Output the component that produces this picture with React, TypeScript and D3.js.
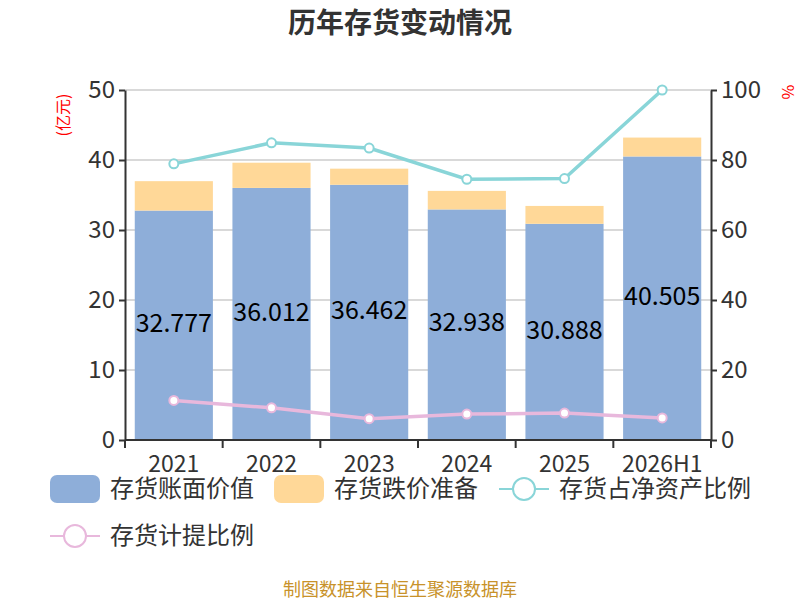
import { useRef, useEffect } from 'react';
import * as d3 from 'd3';

const FONT = '"Noto Sans CJK SC", "Noto Sans", sans-serif';

const YEARS = ['2021', '2022', '2023', '2024', '2025', '2026H1'];
const BOOK_VALUE = [32.777, 36.012, 36.462, 32.938, 30.888, 40.505];
const IMPAIRMENT = [4.2, 3.6, 2.3, 2.65, 2.55, 2.7];
const NET_ASSET_RATIO = [78.9, 84.9, 83.4, 74.5, 74.7, 100];
const PROVISION_RATIO = [11.3, 9.2, 6.1, 7.4, 7.7, 6.3];
const LEFT_TICKS = [0, 10, 20, 30, 40, 50];
const RIGHT_TICKS = [0, 20, 40, 60, 80, 100];

const BLUE = '#8eaed9';
const ORANGE = '#ffd898';
const CYAN = '#89d5d8';
const PINK = '#e8b8dc';
const AXIS = '#333';

export default function App() {
  const svgRef = useRef<SVGSVGElement>(null);

  useEffect(() => {
    document.body.style.margin = '0';
    const svg = d3.select(svgRef.current);
    svg.selectAll('*').remove();

    const left = 125, right = 711, top = 90, bottom = 440;

    const x = d3.scaleBand().domain(YEARS).range([left, right]).paddingInner(0.2).paddingOuter(0.1);
    const yL = d3.scaleLinear().domain([0, 50]).range([bottom, top]);
    const yR = d3.scaleLinear().domain([0, 100]).range([bottom, top]);

    // title
    svg.append('text')
      .attr('x', 400).attr('y', 33)
      .attr('text-anchor', 'middle')
      .attr('font-family', FONT).attr('font-size', 28).attr('font-weight', 700)
      .attr('fill', '#333')
      .text('历年存货变动情况');

    // grid lines
    svg.append('g')
      .selectAll('line')
      .data(LEFT_TICKS.slice(1))
      .join('line')
      .attr('x1', left).attr('x2', right)
      .attr('y1', d => yL(d)).attr('y2', d => yL(d))
      .attr('stroke', '#ccc').attr('stroke-width', 1.5);

    // bars
    const bars = svg.append('g');
    YEARS.forEach((yr, i) => {
      const bx = x(yr)!;
      bars.append('rect')
        .attr('x', bx).attr('width', x.bandwidth())
        .attr('y', yL(BOOK_VALUE[i])).attr('height', bottom - yL(BOOK_VALUE[i]))
        .attr('fill', BLUE);
      const tot = BOOK_VALUE[i] + IMPAIRMENT[i];
      bars.append('rect')
        .attr('x', bx).attr('width', x.bandwidth())
        .attr('y', yL(tot)).attr('height', yL(BOOK_VALUE[i]) - yL(tot))
        .attr('fill', ORANGE);
      bars.append('text')
        .attr('x', bx + x.bandwidth() / 2)
        .attr('y', (yL(BOOK_VALUE[i]) + bottom) / 2 - 2)
        .attr('dy', '0.35em')
        .attr('text-anchor', 'middle')
        .attr('font-family', FONT).attr('font-size', 25)
        .attr('fill', '#000')
        .text(BOOK_VALUE[i].toFixed(3));
    });

    // lines
    const cx = (d: string) => x(d)! + x.bandwidth() / 2;
    const drawLine = (vals: number[], color: string) => {
      const line = d3.line<number>().x((_, i) => cx(YEARS[i])).y(v => yR(v));
      svg.append('path')
        .attr('d', line(vals)!)
        .attr('fill', 'none')
        .attr('stroke', color).attr('stroke-width', 3.5);
      svg.append('g')
        .selectAll('circle')
        .data(vals)
        .join('circle')
        .attr('cx', (_, i) => cx(YEARS[i]))
        .attr('cy', v => yR(v))
        .attr('r', 4.5)
        .attr('fill', '#fff')
        .attr('stroke', color).attr('stroke-width', 2);
    };
    drawLine(NET_ASSET_RATIO, CYAN);
    drawLine(PROVISION_RATIO, PINK);

    const styleAxis = (sel: d3.Selection<SVGGElement, unknown, null, undefined>) => {
      sel.select('.domain').attr('stroke', AXIS).attr('stroke-width', 2);
      sel.selectAll('line').attr('stroke', AXIS).attr('stroke-width', 2);
      sel.selectAll('text')
        .attr('fill', AXIS)
        .attr('font-family', FONT)
        .attr('font-size', 24);
    };

    // left axis
    svg.append('g')
      .attr('transform', `translate(${left},0)`)
      .call(d3.axisLeft(yL).tickValues(LEFT_TICKS).tickSize(6).tickSizeOuter(0).tickPadding(4))
      .call(styleAxis);

    // right axis
    svg.append('g')
      .attr('transform', `translate(${right},0)`)
      .call(d3.axisRight(yR).tickValues(RIGHT_TICKS).tickSize(6).tickSizeOuter(0).tickPadding(4))
      .call(styleAxis);

    // x axis
    const xg = svg.append('g').attr('transform', `translate(0,${bottom})`);
    xg.append('line')
      .attr('x1', left).attr('x2', right)
      .attr('stroke', AXIS).attr('stroke-width', 2);
    const step = x.step();
    const bounds = d3.range(YEARS.length + 1).map(i => left + (x.paddingOuter() * step) - (x.paddingInner() * step) / 2 + i * step);
    xg.selectAll('line.tick')
      .data(bounds)
      .join('line')
      .attr('class', 'tick')
      .attr('x1', d => d).attr('x2', d => d)
      .attr('y1', 0).attr('y2', 8)
      .attr('stroke', AXIS).attr('stroke-width', 2);
    xg.selectAll('text')
      .data(YEARS)
      .join('text')
      .attr('x', d => cx(d))
      .attr('y', 32)
      .attr('text-anchor', 'middle')
      .attr('font-family', FONT).attr('font-size', 23)
      .attr('fill', AXIS)
      .text(d => d);

    // unit labels
    svg.append('text')
      .attr('transform', 'translate(69,115) rotate(-90)')
      .attr('text-anchor', 'middle')
      .attr('font-family', FONT).attr('font-size', 16)
      .attr('fill', 'red')
      .text('(亿元)');
    svg.append('text')
      .attr('transform', 'translate(782,92) rotate(90)')
      .attr('text-anchor', 'middle')
      .attr('font-family', FONT).attr('font-size', 16)
      .attr('fill', 'red')
      .text('%');

    // legend
    const legend = svg.append('g').attr('font-family', FONT).attr('font-size', 24).attr('fill', '#333');
    const boxItem = (lx: number, ly: number, color: string, label: string) => {
      legend.append('rect')
        .attr('x', lx).attr('y', ly - 14).attr('width', 50).attr('height', 28)
        .attr('rx', 7).attr('fill', color);
      legend.append('text').attr('x', lx + 60).attr('y', ly).attr('dy', '0.35em').text(label);
    };
    const lineItem = (lx: number, ly: number, color: string, label: string) => {
      legend.append('line')
        .attr('x1', lx).attr('x2', lx + 50).attr('y1', ly).attr('y2', ly)
        .attr('stroke', color).attr('stroke-width', 2);
      legend.append('circle')
        .attr('cx', lx + 25).attr('cy', ly).attr('r', 11)
        .attr('fill', '#fff').attr('stroke', color).attr('stroke-width', 2);
      legend.append('text').attr('x', lx + 60).attr('y', ly).attr('dy', '0.35em').text(label);
    };
    boxItem(50, 489, BLUE, '存货账面价值');
    boxItem(274, 489, ORANGE, '存货跌价准备');
    lineItem(499, 489, CYAN, '存货占净资产比例');
    lineItem(50, 536, PINK, '存货计提比例');

    // source
    svg.append('text')
      .attr('x', 400).attr('y', 596)
      .attr('text-anchor', 'middle')
      .attr('font-family', FONT).attr('font-size', 18)
      .attr('fill', '#c8922a')
      .text('制图数据来自恒生聚源数据库');
  }, []);

  return <svg ref={svgRef} width={800} height={600} style={{ display: 'block' }} />;
}
